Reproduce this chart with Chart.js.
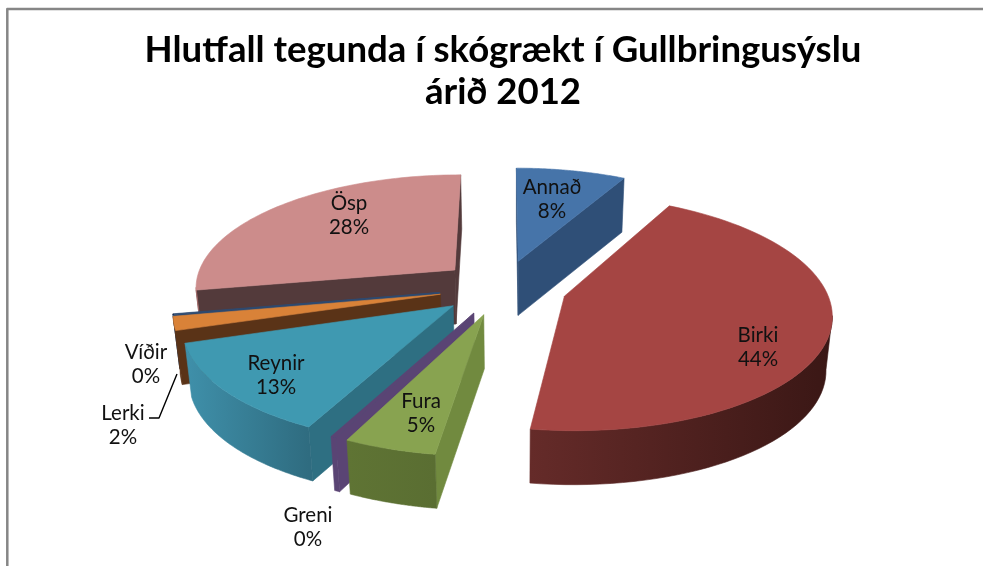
<!DOCTYPE html>
<html><head><meta charset="utf-8">
<style>html,body{margin:0;padding:0;background:#fff}canvas{display:block}</style>
<script src="https://cdn.jsdelivr.net/npm/chart.js@4"></script>
</head><body><canvas id="c" width="983" height="566"></canvas>
<script>
const categories = ['Annað','Birki','Fura','Greni','Reynir','Lerki','Víðir','Ösp'];
const shares = [7.9,44.4,4.8,0.3,12.7,1.9,0.1,27.9];
const titleLines = ['Hlutfall tegunda í skógrækt í Gullbringusýslu','árið 2012'];

const topColors  = ['#4674a9','#a54543','#88a350','#5a4474','#3f99b1','#d98238','#2e4a70','#cc8c8b'];
const cutColors  = ['#2f4f77','#5a2725','#718a3f','#5a4474','#2e6f82','#5a3317','#2e4a70','#533a3b'];
const wallLeft   = ['#2f4f77','#652b29','#5f7434','#5a4474','#3f90aa','#5a3317','#2e4a70','#a86c6b'];
const wallRight  = ['#2f4f77','#3a1715','#5a6e32','#5a4474','#2f6c80','#5a3317','#2e4a70','#a86c6b'];
const paintOrder = [0,7,6,5,4,3,2,1];
const labelSpots = [[552,187],[758,335],[421,401],[308,515],[276,363],[123,413],[146,352],[349,203]];
const leader = [[177,374],[159,418],[149,418]];

const TILT=113/261, PERSP=0.14, DEPTH=54, SWAY=0.02, SWAY_X=515;

function project(chart,u,v,R){
  const a=chart.chartArea, cx=(a.left+a.right)/2, cy=(a.top+a.bottom)/2;
  const s=1/(1-PERSP*v);
  return [cx+R*u*s, cy+R*TILT*v*s];
}
function drop(p){return [p[0]+(SWAY_X-p[0])*SWAY,p[1]+DEPTH];}
function poly(ctx,pts,fill){
  ctx.beginPath();pts.forEach((p,i)=>i?ctx.lineTo(p[0],p[1]):ctx.moveTo(p[0],p[1]));ctx.closePath();
  ctx.fillStyle=fill;ctx.fill();ctx.strokeStyle=fill;ctx.lineWidth=0.6;ctx.lineJoin='round';ctx.stroke();
}
const pie3d={
  id:'pie3d',
  beforeDatasetDraw(chart,args){
    const ctx=chart.ctx, arcs=args.meta.data;
    paintOrder.forEach(i=>{
      const arc=arcs[i], R=arc.outerRadius, off=arc.options.offset/R;
      const mid=(arc.startAngle+arc.endAngle)/2, ou=off*Math.cos(mid), ov=off*Math.sin(mid);
      const tip=project(chart,ou,ov,R), rim=[];
      const n=72;
      for(let k=0;k<=n;k++){
        const t=arc.startAngle+(arc.endAngle-arc.startAngle)*k/n;
        rim.push(project(chart,ou+Math.cos(t),ov+Math.sin(t),R));
      }
      const first=rim[0], last=rim[n];
      if(first[0]<tip[0]) poly(ctx,[tip,first,drop(first),drop(tip)],cutColors[i]);
      if(tip[0]<last[0]) poly(ctx,[last,tip,drop(tip),drop(last)],cutColors[i]);
      let run=[];
      const flush=()=>{
        if(run.length>1){
          const xs=run.map(p=>p[0]), g=ctx.createLinearGradient(Math.min(...xs),0,Math.max(...xs),0);
          g.addColorStop(0,wallLeft[i]);g.addColorStop(1,wallRight[i]);
          poly(ctx,run.concat(run.slice().reverse().map(drop)),g);
        }
        run=[];
      };
      for(let k=0;k<n;k++){
        if(rim[k+1][0]<rim[k][0]){ if(!run.length)run.push(rim[k]); run.push(rim[k+1]); }
        else flush();
      }
      flush();
      poly(ctx,[tip].concat(rim),arc.options.backgroundColor);
    });
    return false;
  },
  afterDraw(chart){
    const ctx=chart.ctx;
    ctx.save();
    ctx.strokeStyle='#868686';ctx.lineWidth=2.5;
    ctx.beginPath();ctx.moveTo(7.3,566);ctx.lineTo(7.3,9);ctx.lineTo(983,9);ctx.stroke();
    ctx.strokeStyle='#000';ctx.lineWidth=1.4;
    ctx.beginPath();leader.forEach((p,i)=>i?ctx.lineTo(p[0],p[1]):ctx.moveTo(p[0],p[1]));ctx.stroke();
    ctx.fillStyle='#111';ctx.font='20.5px Lato';ctx.textAlign='center';ctx.textBaseline='middle';
    categories.forEach((c,i)=>{
      const [x,y]=labelSpots[i];
      ctx.fillText(c,x,y);
      ctx.fillText(Math.round(shares[i])+'%',x,y+24);
    });
    ctx.restore();
  }
};
new Chart(document.getElementById('c'),{
  type:'pie',
  data:{labels:categories,datasets:[{data:shares,backgroundColor:topColors,borderWidth:0,offset:64,radius:261}]},
  options:{
    responsive:false,animation:false,rotation:0,
    layout:{padding:{left:23,right:0,top:0,bottom:114}},
    plugins:{
      legend:{display:false},tooltip:{enabled:false},
      title:{display:true,text:titleLines,color:'#000',align:'center',
        font:{family:'Lato',size:36.6,weight:'bold',lineHeight:1.13},padding:{top:30,bottom:10}}
    }
  },
  plugins:[pie3d]
});
</script></body></html>
